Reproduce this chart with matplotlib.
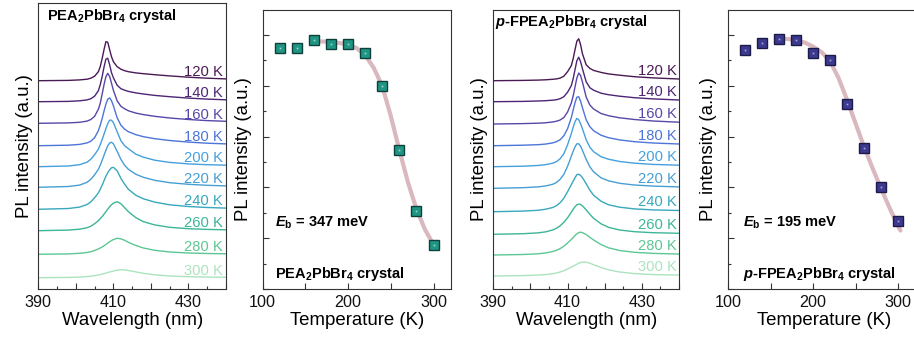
import matplotlib
matplotlib.use('Agg')
import matplotlib.pyplot as plt
from matplotlib.ticker import MultipleLocator, FuncFormatter

plt.rcParams['font.family'] = ['Liberation Sans', 'DejaVu Sans']
plt.rcParams['mathtext.fontset'] = 'custom'
plt.rcParams['mathtext.rm'] = 'Liberation Sans'
plt.rcParams['mathtext.it'] = 'Liberation Sans:italic'
plt.rcParams['mathtext.bf'] = 'Liberation Sans:bold'
plt.rcParams['mathtext.bfit'] = 'Liberation Sans:bold:italic'

# ---------------- data ----------------
temp_labels = ['120 K', '140 K', '160 K', '180 K', '200 K',
               '220 K', '240 K', '260 K', '280 K', '300 K']
spec_colors = ['#4a1a55', '#4d2574', '#5747a8', '#4d74d8', '#45a0de',
               '#479ed4', '#38a8bd', '#3db597', '#5cc794', '#ace3bf']

# PEA2PbBr4 spectra (offset stack)
wl_pea = [390, 398, 401, 403, 404, 405, 406, 406.5, 407, 407.5, 408, 408.5, 409, 409.5,
          410, 411, 412, 413, 414, 416, 418, 421, 425, 430, 435, 440]
offset_pea = [208.3, 187.3, 165.7, 143.3, 122.3, 101.7, 79.7, 58.3, 34.7, 11.3]
spec_pea = [
    [0, 0.3, 0.8, 1.5, 2.5, 4.5, 9, 14, 22, 31, 39, 38.5, 31, 24, 19, 14, 11.5, 10, 9, 7.8, 7, 6, 4.8, 3.5, 2.5, 1.8],
    [0, 0.3, 0.9, 1.8, 3, 5.5, 11, 17, 25, 34.5, 42.5, 43.5, 37, 29, 24, 16.5, 13, 11.5, 10.3, 8.8, 7.7, 6.3, 5, 3.6, 2.6, 1.9],
    [0, 0.4, 1, 2.2, 3.8, 7, 14, 20, 29, 38.5, 46.5, 50, 47, 40, 33, 22.5, 17, 14.5, 12.5, 10.2, 8.7, 7, 5.3, 3.8, 2.7, 2],
    [0, 0.5, 1.3, 2.8, 4.5, 8, 15, 20.5, 27, 34.5, 41.5, 46.5, 47.8, 45, 40, 28, 20.5, 16.5, 14, 11, 9, 7, 5.2, 3.6, 2.5, 1.8],
    [0, 0.7, 2, 4.5, 7.5, 12, 17.5, 22, 27, 32.5, 38, 43, 46.5, 46.5, 44, 35, 26, 21, 18, 12.5, 9.5, 6.5, 4.3, 2.8, 2, 1.5],
    [0, 0.8, 2.2, 5, 8, 12.5, 18, 22, 27, 32, 37, 41.5, 44.3, 45, 43.5, 36, 28, 22, 18, 13, 10, 7, 4.6, 3, 2, 1.4],
    [0, 0.8, 2.2, 4.8, 7.5, 11.5, 16.5, 20, 24, 28.5, 33, 36.5, 39.5, 41.5, 42, 38.5, 31, 25, 20, 14, 10.5, 7.2, 4.5, 2.8, 1.8, 1.2],
    [0, 0.6, 1.5, 3, 4.5, 7, 10, 12, 14, 16.5, 19, 21.5, 24, 26, 27.5, 29, 27, 23, 19, 13, 9, 5.8, 3.4, 2, 1.3, 0.9],
    [0, 0.4, 1, 1.8, 2.6, 3.8, 5.3, 6.3, 7.3, 8.5, 9.8, 11.2, 12.5, 13.7, 14.8, 16, 15.5, 14, 12, 8.8, 6.3, 4, 2.3, 1.3, 0.8, 0.5],
    [0, 0.3, 0.6, 1.1, 1.5, 2, 2.7, 3.1, 3.6, 4.1, 4.6, 5.2, 5.7, 6.2, 6.7, 7.5, 8, 7.8, 7.2, 5.8, 4.4, 2.9, 1.7, 1, 0.6, 0.4],
]

# p-FPEA2PbBr4 spectra (offset stack)
wl_fpea = [390, 398, 402, 404, 406, 407, 408, 409, 410, 411, 411.5, 412, 412.5, 413, 413.5,
           414, 415, 416, 417, 419, 421, 424, 428, 433, 440]
offset_fpea = [208.3, 187.3, 165.0, 143.3, 122.3, 100.7, 77.3, 54.7, 34.0, 13.0]
spec_fpea = [
    [0, 0.3, 0.6, 0.9, 1.4, 1.8, 2.6, 4.5, 9, 15, 22, 31, 39.5, 42, 36, 27, 16, 12.3, 10.3, 8.3, 6.8, 5.5, 4, 2.8, 1.7],
    [0, 0.3, 0.7, 1, 1.5, 2, 3, 5, 9.5, 16, 23, 32, 41, 44.5, 40, 33, 20, 14, 11.5, 8.5, 7, 5.5, 4, 2.8, 1.7],
    [0, 0.4, 0.8, 1.2, 2, 2.8, 4, 6.5, 12, 21, 28, 37, 46, 51, 48.5, 42, 27, 19, 15, 10.5, 8.3, 6.2, 4.5, 3, 1.8],
    [0, 0.5, 1, 1.6, 2.8, 4, 6, 10, 17, 28, 35.5, 43, 48.5, 49, 44.5, 38, 26, 19, 15, 10.5, 8, 5.8, 4, 2.7, 1.7],
    [0, 0.5, 1.2, 2, 3.5, 5, 8, 13, 22, 33, 39.5, 45, 48.3, 47, 43, 38, 27, 19.5, 15, 10, 7.5, 5.2, 3.5, 2.3, 1.5],
    [0, 0.6, 1.4, 2.3, 4, 5.8, 9, 14, 22, 32, 37, 41.5, 44.5, 44.5, 42, 38, 29, 21.5, 16.5, 10.5, 7.5, 5, 3.3, 2.2, 1.4],
    [0, 0.6, 1.4, 2.4, 4.2, 6, 9, 13.5, 20, 27, 30.5, 34, 37, 37.5, 36.3, 34, 28, 21.5, 16.5, 10.5, 7, 4.5, 2.8, 1.8, 1.2],
    [0, 0.6, 1.4, 2.4, 4.3, 6, 8.5, 12, 16.5, 22, 25, 27.5, 29.5, 30.2, 29.8, 28.5, 24.5, 20, 16, 10.5, 7, 4.3, 2.6, 1.6, 1],
    [0, 0.5, 1.2, 2, 3.5, 4.7, 6.4, 8.8, 12, 15.5, 17.5, 19.5, 21.2, 22.4, 22.8, 22.3, 20.5, 17.7, 15, 10.5, 7.2, 4.5, 2.7, 1.6, 1],
    [0, 0.4, 0.9, 1.4, 2.3, 3, 4, 5.3, 7, 8.8, 9.8, 10.8, 11.8, 12.8, 13.5, 13.9, 13.8, 12.8, 11.3, 8.5, 6.2, 4, 2.4, 1.4, 0.9],
]

# integrated PL intensity vs temperature
temps = [120, 140, 160, 180, 200, 220, 240, 260, 280, 300]
int_pea = [4.75, 4.74, 4.89, 4.82, 4.82, 4.64, 3.99, 2.73, 1.54, 0.87]
int_fpea = [4.70, 4.85, 4.92, 4.89, 4.65, 4.51, 3.65, 2.78, 2.01, 1.34]

# Arrhenius fit curves
fit_t_pea = [160, 170, 180, 190, 200, 210, 220, 230, 240, 250, 260, 270, 280, 290, 300]
fit_pea = [4.88, 4.87, 4.86, 4.84, 4.81, 4.74, 4.60, 4.35, 3.99, 3.40, 2.73, 2.10, 1.57, 1.17, 0.87]
fit_t_fpea = [160, 170, 180, 190, 200, 210, 220, 230, 240, 250, 260, 270, 280, 290, 300, 303]
fit_fpea = [4.93, 4.92, 4.89, 4.85, 4.77, 4.66, 4.48, 4.15, 3.72, 3.26, 2.80, 2.38, 1.98, 1.60, 1.24, 1.15]

# ---------------- figure ----------------
W, H = 914, 338
fig = plt.figure(figsize=(W / 100, H / 100), dpi=100)


def ax_px(left, top, right, bottom):
    return fig.add_axes([left / W, 1 - bottom / H, (right - left) / W, (bottom - top) / H])


spine_c = '#333333'
label_fs = 13.4
tick_fs = 11.6


def style(ax):
    for s in ax.spines.values():
        s.set_color(spine_c)
        s.set_linewidth(0.8)
    ax.tick_params(which='both', direction='in', colors=spine_c, labelcolor='#111111',
                   labelsize=tick_fs, pad=4, width=0.8)
    ax.tick_params(which='major', length=4)
    ax.tick_params(which='minor', length=2.5)


def spectra_panel(ax, wl, specs, offsets, ylim_top, title, lab_x, lab_dy, title_xy):
    for h, off, c, lab in zip(specs, offsets, spec_colors, temp_labels):
        y = [off + v for v in h]
        ax.plot(wl, y, color=c, lw=1.0, solid_capstyle='butt', solid_joinstyle='round')
        ax.text(lab_x, y[-1] + lab_dy, lab, color=c, fontsize=10.6,
                ha='right', va='baseline')
    ax.set_xlim(390, 440)
    ax.set_ylim(0, ylim_top)
    style(ax)
    ax.xaxis.set_major_locator(MultipleLocator(10))
    ax.xaxis.set_minor_locator(MultipleLocator(5))
    ax.xaxis.set_major_formatter(FuncFormatter(
        lambda v, p: f'{int(round(v))}' if int(round(v - 390)) % 20 == 0 else ''))
    ax.set_yticks([])
    ax.set_xlabel('Wavelength (nm)', fontsize=label_fs, labelpad=2)
    ax.set_ylabel('PL intensity (a.u.)', fontsize=label_fs, labelpad=4)
    ax.text(title_xy[0], title_xy[1], title, fontsize=10.5, fontweight='bold',
            ha='left', va='top')


def intensity_panel(ax, t, vals, ft, fv, face, edge, dot, eb_text, title, xmax, tx):
    ax.plot(ft, fv, color='#dab8bf', lw=3.0, solid_capstyle='round', zorder=2)
    ax.plot(t, vals, ls='none', marker='s', ms=6.8, mfc=face, mec=edge, mew=1.0, zorder=3)
    ax.plot(t, vals, ls='none', marker='s', ms=1.2, mfc=dot, mec='none', zorder=4)
    ax.set_xlim(100, xmax)
    ax.set_ylim(0, 5.49)
    style(ax)
    ax.xaxis.set_major_locator(MultipleLocator(50))
    ax.xaxis.set_major_formatter(FuncFormatter(
        lambda v, p: f'{int(round(v))}' if int(round(v)) % 100 == 0 else ''))
    ax.yaxis.set_major_locator(MultipleLocator(1))
    ax.yaxis.set_minor_locator(MultipleLocator(0.5))
    ax.yaxis.set_major_formatter(FuncFormatter(lambda v, p: ''))
    ax.set_xlabel('Temperature (K)', fontsize=label_fs, labelpad=2)
    ax.set_ylabel('PL intensity (a.u.)', fontsize=label_fs, labelpad=4)
    ax.text(tx, 1.30, eb_text, fontsize=10.5, fontweight='bold', ha='left', va='center')
    ax.text(tx, 0.30, title, fontsize=10.5, fontweight='bold', ha='left', va='center')


ax1 = ax_px(38.3, 3, 226, 289)
spectra_panel(ax1, wl_pea, spec_pea, offset_pea, 286,
              r'$\mathbf{PEA_2PbBr_4}$ crystal', 439.1, 2.7, (392.2, 282))

ax2 = ax_px(262.7, 10, 451, 289)
intensity_panel(ax2, temps, int_pea, fit_t_pea, fit_pea, '#1f9684', '#0e3f3a', '#9fd7cc',
                r'$\mathbfit{E}_\mathbf{b}$ = 347 meV', r'$\mathbf{PEA_2PbBr_4}$ crystal',
                320.4, 114)

ax3 = ax_px(493.3, 10, 679, 289)
spectra_panel(ax3, wl_fpea, spec_fpea, offset_fpea, 279,
              r'$\mathbfit{p}$-FPEA$\mathbf{_2}$PbBr$\mathbf{_4}$ crystal', 439.5, 4.0,
              (390.5, 276))

ax4 = ax_px(728.3, 10, 919.6, 289)
intensity_panel(ax4, temps, int_fpea, fit_t_fpea, fit_fpea, '#3c3a8e', '#1b1a48', '#a9a6d8',
                r'$\mathbfit{E}_\mathbf{b}$ = 195 meV',
                r'$\mathbfit{p}$-FPEA$\mathbf{_2}$PbBr$\mathbf{_4}$ crystal', 325.5, 117.3)

fig.savefig('out.png', dpi=100)
